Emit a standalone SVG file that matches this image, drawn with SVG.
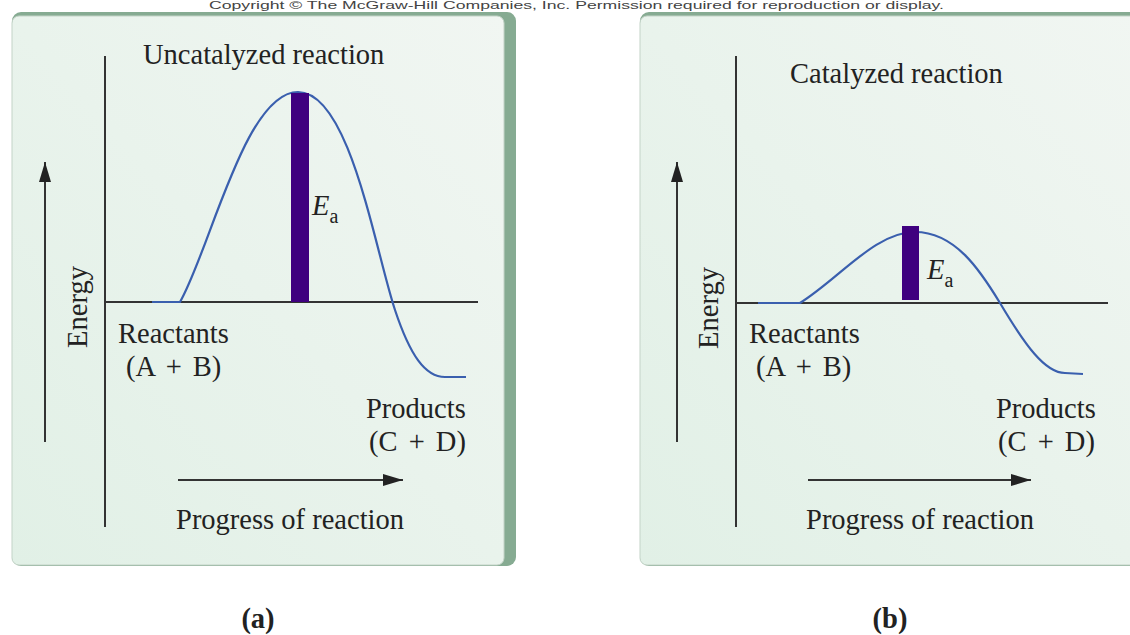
<svg xmlns="http://www.w3.org/2000/svg" width="1130" height="635" viewBox="0 0 1130 635">
<style>
.t{font-family:"Liberation Serif","Times New Roman",serif;font-size:28.5px;fill:#222}
.w{word-spacing:4px}
.b{font-weight:bold}
.ax{stroke:#333;stroke-width:2;fill:none}
.cv{stroke:#3a5fae;stroke-width:2.2;fill:none}
.bar{fill:#3f007f}
.frame{fill:#86ab92}
.face{fill:url(#g);stroke:#c3d3c7;stroke-width:1}
</style>
<defs>
<linearGradient id="g" x1="0" y1="1" x2="1" y2="0">
<stop offset="0" stop-color="#e1f0e6"/>
<stop offset="1" stop-color="#f1f6f2"/>
</linearGradient>
<marker id="ahw" viewBox="0 0 20 12" refX="20" refY="6" markerWidth="20" markerHeight="12" markerUnits="userSpaceOnUse" orient="auto">
<path d="M0,0 L20,6 L0,12 z" fill="#222"/>
</marker>
</defs>
<rect width="1130" height="635" fill="#ffffff"/>
<text x="209" y="9" font-family="Liberation Sans, Arial, sans-serif" font-size="11" fill="#444" textLength="735" lengthAdjust="spacingAndGlyphs">Copyright © The McGraw-Hill Companies, Inc. Permission required for reproduction or display.</text>

<g id="panel-a">
<rect class="frame" x="12" y="12" width="504" height="554" rx="9"/>
<rect class="face" x="12" y="16" width="492" height="549" rx="7"/>
</g>
<g id="panel-b">
<rect class="frame" x="640" y="12" width="500" height="554" rx="9"/>
<rect class="face" x="640" y="16" width="500" height="549" rx="7"/>
</g>

<g id="connectors">
<line class="ax" x1="105" y1="56" x2="105" y2="527"/>
<line class="ax" x1="105" y1="302" x2="478" y2="302"/>
<line class="ax" x1="45" y1="442" x2="45" y2="162" marker-end="url(#ahw)"/>
<line class="ax" x1="178" y1="480" x2="403" y2="480" marker-end="url(#ahw)"/>
<line class="ax" x1="736" y1="56" x2="736" y2="527"/>
<line class="ax" x1="736" y1="303" x2="1108" y2="303"/>
<line class="ax" x1="677" y1="442" x2="677" y2="162" marker-end="url(#ahw)"/>
<line class="ax" x1="808" y1="480" x2="1031" y2="480" marker-end="url(#ahw)"/>
</g>

<g id="curve-a">
<path class="cv" d="M152,302 L180,302 C210,250 245,92 298,92 C350,92 375,250 395,310 C410,355 425,377 445,377 L466,377"/>
<rect class="bar" x="291" y="93" width="18" height="209"/>
</g>
<g id="curve-b">
<path class="cv" d="M758,303 L800,303 C840,278 875,232 915,232 C955,232 980,270 1000,303 C1025,345 1045,373 1065,373 L1083,374"/>
<rect class="bar" x="902" y="226" width="17" height="74"/>
</g>

<g id="labels-a">
<text class="t" x="143" y="64">Uncatalyzed reaction</text>
<text class="t" x="312" y="215" font-style="italic" font-size="27">E<tspan font-style="normal" font-size="20" dy="8">a</tspan></text>
<text class="t" transform="translate(87,307) rotate(-90)" text-anchor="middle">Energy</text>
<text class="t" x="118" y="343">Reactants</text>
<text class="t w" x="126" y="376">(A + B)</text>
<text class="t" x="366" y="418">Products</text>
<text class="t w" x="369" y="451">(C + D)</text>
<text class="t" x="290" y="529" text-anchor="middle">Progress of reaction</text>
<text class="t b" x="258" y="628" text-anchor="middle">(a)</text>
</g>
<g id="labels-b">
<text class="t" x="790" y="83">Catalyzed reaction</text>
<text class="t" x="927" y="279" font-style="italic" font-size="27">E<tspan font-style="normal" font-size="20" dy="8">a</tspan></text>
<text class="t" transform="translate(718,308) rotate(-90)" text-anchor="middle">Energy</text>
<text class="t" x="749" y="343">Reactants</text>
<text class="t w" x="756" y="376">(A + B)</text>
<text class="t" x="996" y="418">Products</text>
<text class="t w" x="998" y="451">(C + D)</text>
<text class="t" x="920" y="529" text-anchor="middle">Progress of reaction</text>
<text class="t b" x="890" y="628" text-anchor="middle">(b)</text>
</g>
</svg>
